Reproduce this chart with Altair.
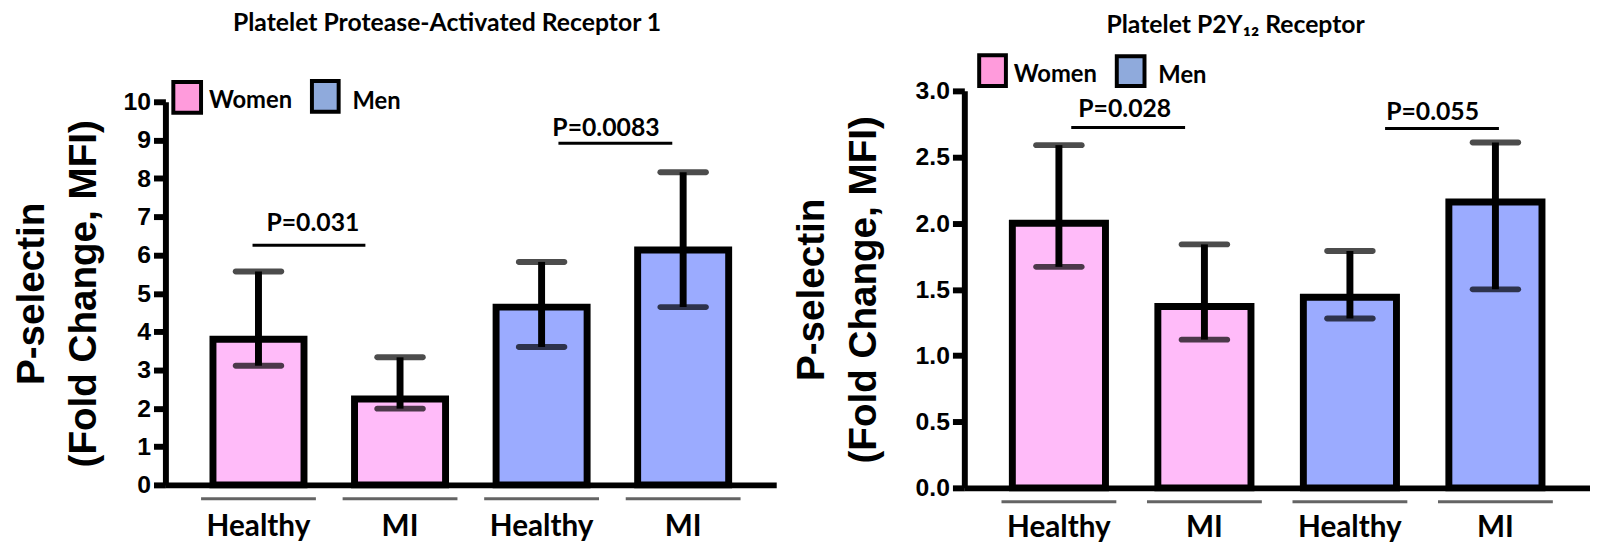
import altair as alt
import pandas as pd

# ---- data ----
groups = ["Women Healthy", "Women MI", "Men Healthy", "Men MI"]
sex = ["Women", "Women", "Men", "Men"]

par1_mean = [3.80, 2.24, 4.64, 6.13]
par1_low = [3.11, 1.99, 3.60, 4.64]
par1_high = [5.57, 3.33, 5.82, 8.16]

p2y12_mean = [2.00, 1.37, 1.44, 2.16]
p2y12_low = [1.67, 1.12, 1.28, 1.50]
p2y12_high = [2.59, 1.84, 1.79, 2.61]

par1_ticks = [0, 1, 2, 3, 4, 5, 6, 7, 8, 9, 10]
p2y12_ticks = [0.0, 0.5, 1.0, 1.5, 2.0, 2.5, 3.0]

par1_pvals = ["P=0.031", "P=0.0083"]
p2y12_pvals = ["P=0.028", "P=0.055"]

legend_labels = ["Women", "Men"]
y_title = ["P-selectin", "(Fold Change, MFI)"]
title_left = "Platelet Protease-Activated Receptor 1"
title_right = "Platelet P2Y\u2081\u2082 Receptor"

BAR_COLORS = ["#FFBBF9", "#9BABFF"]
LEG_COLORS = ["#FF9BDC", "#8FAADC"]
TXT_FONT = "Lato"
NUM_FONT = "Liberation Sans"


def panel(mean, low, high, ymax, ticks, fmt, height, top_gap, width, title,
          title_offset, title_dx, title_x, pvals, pval_pos, legend_pos,
          label_pad, pinner, pouter):
    df = pd.DataFrame({"group": groups, "sex": sex, "mean": mean,
                       "low": low, "high": high})
    xaxis = alt.Axis(title=None, labelExpr="split(datum.label, ' ')[1]",
                     ticks=False, tickSize=0, domainWidth=6,
                     domainColor="black", labelFont=TXT_FONT,
                     labelFontSize=30, labelFontWeight="bold",
                     labelColor="black", labelPadding=label_pad,
                     labelAngle=0)
    xscale = alt.Scale(paddingInner=pinner, paddingOuter=pouter)

    def X():
        return alt.X("group:N", sort=groups, scale=xscale, axis=xaxis)

    yscale = alt.Scale(domain=[0, ymax], nice=False, zero=True,
                       range=[height, top_gap])
    yaxis = alt.Axis(title=y_title, titleFont=NUM_FONT, titleFontSize=39,
                     titleFontWeight="bold", titleColor="black",
                     titleBaseline="alphabetic", titleX=title_x,
                     titleLineHeight=52, values=ticks, format=fmt,
                     labelFont=NUM_FONT, labelFontSize=25, labelFontWeight="bold",
                     labelColor="black", labelOverlap=False, tickSize=12,
                     tickWidth=6, tickColor="black", domainWidth=6,
                     domainColor="black", grid=False, labelPadding=3)

    def Y(field):
        return alt.Y(field, scale=yscale, axis=yaxis)

    base = alt.Chart(df)
    bars = base.mark_bar(stroke="black", strokeWidth=7).encode(
        x=X(),
        y=Y("mean:Q"),
        fill=alt.Fill("sex:N", scale=alt.Scale(domain=legend_labels,
                                               range=BAR_COLORS), legend=None),
    )
    err = base.mark_rule(color="black", strokeWidth=7).encode(
        x=X(), y=Y("low:Q"), y2="high:Q")
    cap_hi = base.mark_tick(color="black", thickness=6, size=52,
                            cornerRadius=3).encode(x=X(), y=Y("high:Q"))
    cap_lo = base.mark_tick(color="black", thickness=6, size=52,
                            cornerRadius=3).encode(x=X(), y=Y("low:Q"))
    under = base.mark_tick(color="#222222", thickness=3, size=116,
                           orient="horizontal").encode(
        x=X(), y=alt.value(height + 14))

    layers = [bars, err, cap_hi, cap_lo, under]

    # p-value annotations
    for txt, (tx, ty, lx1, lx2, ly) in zip(pvals, pval_pos):
        d = pd.DataFrame({"t": [txt]})
        layers.append(alt.Chart(d).mark_rule(color="black", strokeWidth=3).encode(
            x=alt.value(lx1), x2=alt.value(lx2), y=alt.value(ly)))
        layers.append(alt.Chart(d).mark_text(
            font=TXT_FONT, fontSize=25, fontWeight="bold", color="black",
            align="center", baseline="middle").encode(
            text="t:N", x=alt.value(tx), y=alt.value(ty)))

    # legend
    for lab, col, (rx1, rx2, ry1, ry2, tx, ty) in zip(legend_labels, LEG_COLORS,
                                                      legend_pos):
        d = pd.DataFrame({"t": [lab]})
        layers.append(alt.Chart(d).mark_rect(fill=col, stroke="black",
                                             strokeWidth=4).encode(
            x=alt.value(rx1), x2=alt.value(rx2), y=alt.value(ry1),
            y2=alt.value(ry2)))
        layers.append(alt.Chart(d).mark_text(
            font=TXT_FONT, fontSize=24, fontWeight="bold", color="black",
            align="left", baseline="middle").encode(
            text="t:N", x=alt.value(tx), y=alt.value(ty)))

    return alt.layer(*layers).properties(
        width=width, height=height,
        title=alt.TitleParams(text=title, font=TXT_FONT, fontSize=25,
                              fontWeight="bold", color="black",
                              offset=title_offset, anchor="middle",
                              frame="group", dx=title_dx),
    )


left = panel(par1_mean, par1_low, par1_high, 10, par1_ticks, "d",
             398, 11, 617, title_left, 43, -24, -123,
             par1_pvals,
             [(149, 134, 88, 202, 156), (445, 38, 397, 512, 53)],
             [(8, 36, -9, 22, 44, 10), (148, 175, -10, 21, 189, 11)],
             27, 0.357, 0.336)

right = panel(p2y12_mean, p2y12_low, p2y12_high, 3, p2y12_ticks, ".1f",
              401, 0, 632, title_right, 15, -42, -142,
              p2y12_pvals,
              [(162, 18, 108, 223, 37), (473, 21, 425, 540, 38)],
              [(15, 42, -36, -5, 50, -16), (154, 182, -35, -5, 196, -15)],
              25, 0.36, 0.33)

chart = alt.hconcat(left, right, spacing=16).properties(
    padding={"left": 4, "top": 1, "right": 0, "bottom": 0}
).configure_view(stroke=None)

chart.save("out.html", embed_options={"renderer": "svg", "actions": False})
